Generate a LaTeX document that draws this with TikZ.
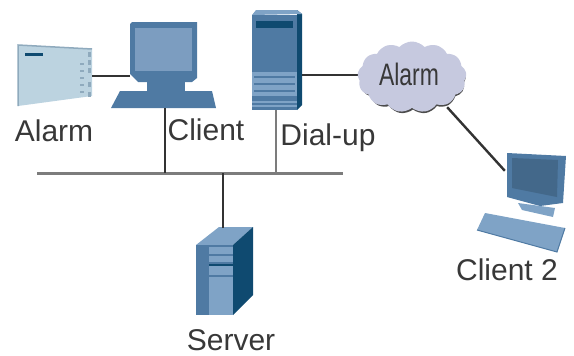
\documentclass[tikz,border=0pt]{standalone}
\usepackage{fontspec}
\setmainfont{Liberation Sans}
\usetikzlibrary{shapes.symbols}
\definecolor{boxlight}{HTML}{BCD3E0}
\definecolor{boxedge}{HTML}{8FAABD}
\definecolor{pcmid}{HTML}{4F7AA3}
\definecolor{pcscreen}{HTML}{7C9DC0}
\definecolor{pclight}{HTML}{7FA3C6}
\definecolor{pcdark}{HTML}{0F4A70}
\definecolor{cloudfill}{HTML}{C6C9DF}
\definecolor{busgrey}{HTML}{7C7C7C}
\definecolor{wiredark}{HTML}{333333}
\begin{document}
\begin{tikzpicture}[x=1pt,y=-1pt,
  lbl/.style={inner sep=0pt, font=\fontsize{30}{32}\selectfont, text=black!78},
  bus/.style={line width=3pt, busgrey},
  wire/.style={line width=1.8pt, wiredark},
  port/.style={inner sep=0pt, minimum size=0pt}]
\useasboundingbox (0,0) rectangle (574,356);
% alarm box
\fill[boxlight] (18,45) -- (92,49) -- (92,96) -- (18,106) -- cycle;
\draw[boxedge, line width=1.5pt] (18,106) -- (18,45) -- (92,49);
\fill[pcdark] (25,53) rectangle (43,56);
\foreach \yy in {63,70,77,84,91} \fill[boxedge] (80,\yy) rectangle (84,\yy+2);
\foreach \yy in {52,60,68,82,92} \fill[boxedge] (88,\yy) rectangle (91,\yy+5);
% client
\fill[pcmid] (130,24) -- (132,22) -- (197,22) -- (197,78) -- (192,82) -- (138,82) -- (130,74) -- cycle;
\fill[pcscreen] (135,28) -- (192,28) -- (192,71) -- (135,71) -- cycle;
\fill[pcmid] (147,82) -- (185,82) -- (185,91) -- (147,91) -- cycle;
\fill[pcmid] (120,91) -- (212,91) -- (216,108) -- (111,108) -- cycle;
% dial-up
\fill[pcdark] (297,10) -- (302,14) -- (302,105) -- (297,110) -- cycle;
\fill[pclight] (256,10) -- (297,10) -- (302,14) -- (252,15) -- cycle;
\fill[pcmid] (252,15) rectangle (297,110);
\fill[pcdark] (256,21) rectangle (293,28);
\fill[pclight] (252,72) rectangle (297,96);
\foreach \yy in {76,83,90} \fill[pcmid] (254,\yy) rectangle (295,\yy+1.5);
\fill[pclight] (252,101) rectangle (297,103);
\fill[pclight] (252,105) rectangle (297,107);
% server
\fill[pclight] (196,245) -- (219,227) -- (253,227) -- (233,245) -- cycle;
\fill[pcdark] (233,245) -- (253,227) -- (253,295) -- (233,315) -- cycle;
\fill[pcmid] (196,245) rectangle (233,315);
\fill[pclight] (209,247) rectangle (233,315);
\fill[pcmid] (209,254) rectangle (233,256);
\fill[pcmid] (209,262) rectangle (233,264);
\fill[pcdark] (209,264) rectangle (233,266);
\fill[pcmid] (209,275) rectangle (233,277);
% client 2
\fill[pcmid] (507,153) -- (566,156) -- (563,203) -- (540,206) -- (507,197) -- cycle;
\fill[pcmid!85!black] (512,158) -- (558,160) -- (557,197) -- (512,188) -- cycle;
\fill[pclight] (518,203) -- (555,208) -- (553,217) -- (522,210) -- cycle;
\fill[pclight] (485,213) -- (565,228) -- (557,252) -- (477,230) -- cycle;
\draw[pcmid, line width=1pt] (477,230) -- (557,252) -- (565,228);
% network
\node[port] (busleft) at (37,173) {};
\node[port] (busright) at (343,173) {};
\node[port] (busclient) at (165,173) {};
\node[port] (busdial) at (276,173) {};
\node[port] (busserver) at (223,173) {};
\node[port] (alarmbox) at (92,76) {};
\node[port] (clientl) at (130,76) {};
\node[port] (clientb) at (165,108) {};
\node[port] (dialb) at (276,110) {};
\node[port] (dialr) at (302,75) {};
\node[port] (servert) at (223,228) {};
\node[port] (cloudl) at (359,75) {};
\node[port] (cloudb) at (447,107) {};
\node[port] (clienttwo) at (505,171) {};
\draw[bus] (busleft) -- (busright);
\draw[wire, line width=2.8pt] (clientb) -- (busclient);
\draw[bus, line width=2.4pt] (dialb) -- (busdial);
\draw[wire] (busserver) -- (servert);
\draw[wire] (alarmbox) -- (clientl);
\draw[wire] (dialr) -- (cloudl);
\draw[wire, line width=2.4pt] (cloudb) -- (clienttwo);
% cloud
\node[cloud, cloud puffs=13, cloud puff arc=95, aspect=1.55, fill=black!70, minimum width=106pt, minimum height=70pt, inner sep=0pt] (cloudshadow) at (413,79) {};
\node[cloud, cloud puffs=13, cloud puff arc=95, aspect=1.55, fill=cloudfill, minimum width=109pt, minimum height=71pt, inner sep=0pt] (alarmcloud) at (412,77) {};
\node[lbl, font=\fontsize{31}{33}\selectfont] (cloudlbl) at (409,74) {\scalebox{.74}[1]{Alarm}};
% labels
\node[lbl] (alarmlbl) at (54,131) {Alarm};
\node[lbl] (clientlbl) at (206,130) {Client};
\node[lbl] (diallbl) at (328,138) {Dial-up};
\node[lbl] (clienttwolbl) at (507,270) {Client 2};
\node[lbl] (serverlbl) at (231,340) {Server};
\end{tikzpicture}
\end{document}
